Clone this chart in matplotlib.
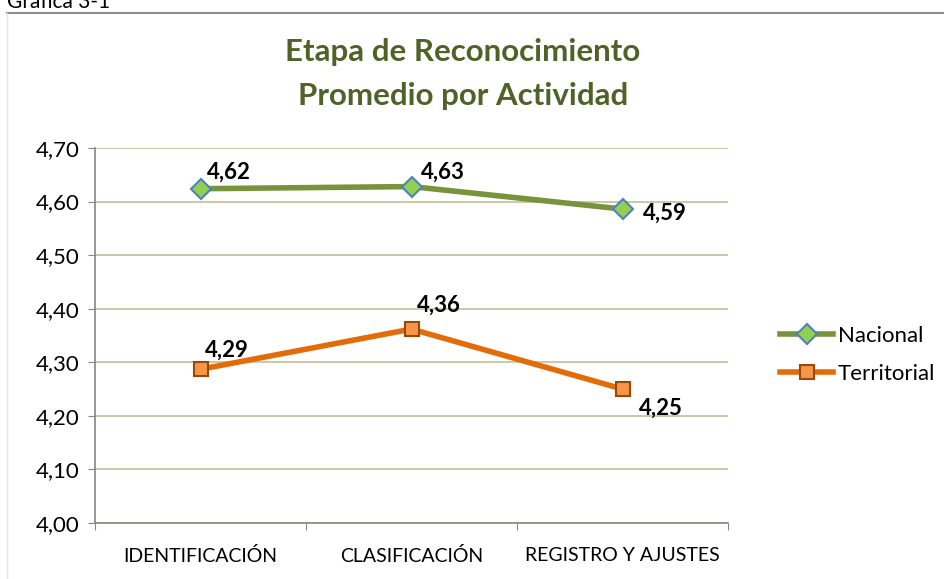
import matplotlib.pyplot as plt
from matplotlib.lines import Line2D

plt.rcParams['font.family'] = ['Lato', 'DejaVu Sans']

categories = ["IDENTIFICACIÓN", "CLASIFICACIÓN", "REGISTRO Y AJUSTES"]
nacional = [4.624, 4.628, 4.586]
territorial = [4.287, 4.362, 4.250]
nacional_labels = ["4,62", "4,63", "4,59"]
territorial_labels = ["4,29", "4,36", "4,25"]
y_ticks = [4.0, 4.1, 4.2, 4.3, 4.4, 4.5, 4.6, 4.7]

fig = plt.figure(figsize=(9.44, 5.79), dpi=100)
ax = fig.add_axes([95 / 944, 1 - 523 / 579, 633 / 944, 375 / 579])

x = list(range(len(categories)))
ax.plot(x, nacional, color="#77933C", lw=4, marker="D", ms=10,
        mfc="#92D050", mec="#4F81BD", mew=1.5, zorder=3, solid_capstyle="round")
ax.plot(x, territorial, color="#E36C09", lw=4, marker="s", ms=10,
        mfc="#F79646", mec="#984807", mew=1.5, zorder=3, solid_capstyle="round")

# data labels
offs_n = [(5, 12), (7, 10), (15, -3)]
for i, (v, t) in enumerate(zip(nacional, nacional_labels)):
    ax.annotate(t, (i, v), xytext=offs_n[i], textcoords="offset points",
                fontsize=16, fontweight="bold", ha="left", va="center")
offs_t = [(3, 14), (4, 17), (12, -14)]
for i, (v, t) in enumerate(zip(territorial, territorial_labels)):
    ax.annotate(t, (i, v), xytext=offs_t[i], textcoords="offset points",
                fontsize=16, fontweight="bold", ha="left", va="center")

ax.set_xlim(-0.5, 2.5)
ax.set_ylim(4.0, 4.7)
ax.set_yticks(y_ticks)
ax.set_yticklabels([f"{v:.2f}".replace(".", ",") for v in y_ticks], fontsize=16)
ax.set_xticks([-0.5, 0.5, 1.5, 2.5])
ax.set_xticklabels([])
ax.set_xticks(x, minor=True)
ax.set_xticklabels(categories, minor=True, fontsize=14)
ax.tick_params(axis="x", which="minor", length=0, pad=17)
ax.tick_params(axis="x", which="major", length=5, color="#868686")
ax.tick_params(axis="y", length=5, color="#868686", pad=6)

ax.grid(axis="y", color="#C4BD97", lw=1.2)
ax.set_axisbelow(True)
for s in ["top", "right"]:
    ax.spines[s].set_visible(False)
for s in ["left", "bottom"]:
    ax.spines[s].set_color("#868686")
    ax.spines[s].set_linewidth(1.2)

fig.text(463 / 944, 1 - 52 / 579, "Etapa de Reconocimiento", ha="center", va="center",
         fontsize=22.5, fontweight="bold", color="#4F6228")
fig.text(463 / 944, 1 - 96 / 579, "Promedio por Actividad", ha="center", va="center",
         fontsize=22.5, fontweight="bold", color="#4F6228")

handles = [
    Line2D([], [], color="#77933C", lw=4, marker="D", ms=10, mfc="#92D050",
           mec="#4F81BD", mew=1.5),
    Line2D([], [], color="#E36C09", lw=4, marker="s", ms=10, mfc="#F79646",
           mec="#984807", mew=1.5),
]
fig.legend(handles, ["Nacional", "Territorial"], loc="center left",
           bbox_to_anchor=(760 / 944, 1 - 355 / 579), frameon=False,
           fontsize=16, handlelength=2.4, handletextpad=0.2, labelspacing=0.8)

# frame lines and caption
fig.add_artist(Line2D([7 / 944, 1], [1 - 13 / 579, 1 - 13 / 579], color="#8C8C8C", lw=1.5))
fig.add_artist(Line2D([7 / 944, 7 / 944], [0, 1 - 13 / 579], color="#E6E6E6", lw=1))
fig.text(7 / 944, 1 - 2 / 579, "Gráfica 3-1", ha="left", va="center", fontsize=15)

fig.savefig("out.png", dpi=100)
